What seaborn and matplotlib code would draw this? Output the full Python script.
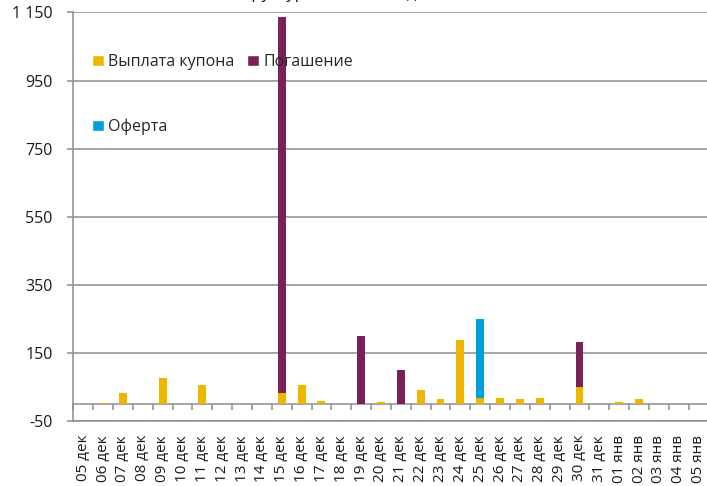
import matplotlib
matplotlib.use("Agg")
import matplotlib.pyplot as plt
from matplotlib.patches import Patch
import numpy as np
import pandas as pd
import seaborn as sns

# Payment calendar, one bar per day
dates = [
    "05 дек", "06 дек", "07 дек", "08 дек", "09 дек", "10 дек", "11 дек",
    "12 дек", "13 дек", "14 дек", "15 дек", "16 дек", "17 дек", "18 дек",
    "19 дек", "20 дек", "21 дек", "22 дек", "23 дек", "24 дек", "25 дек",
    "26 дек", "27 дек", "28 дек", "29 дек", "30 дек", "31 дек",
    "01 янв", "02 янв", "03 янв", "04 янв", "05 янв",
]
coupon = [0, 2, 32, 0, 75, 0, 57, 0, 0, 0, 32, 55, 8, 0, 0, 6,
          0, 40, 14, 187, 19, 19, 16, 19, 0, 50, 0, 5, 15, 0, 0, 0]
redemption = [0, 0, 0, 0, 0, 0, 0, 0, 0, 0, 1104, 0, 0, 0, 199, 0,
              101, 0, 0, 0, 0, 0, 0, 0, 0, 131, 0, 0, 0, 0, 0, 0]
offer = [0, 0, 0, 0, 0, 0, 0, 0, 0, 0, 0, 0, 0, 0, 0, 0,
         0, 0, 0, 0, 230, 0, 0, 0, 0, 0, 0, 0, 0, 0, 0, 0]
series_names = ["Выплата купона", "Погашение", "Оферта"]
y_ticks = [-50, 150, 350, 550, 750, 950, 1150]
title = "Структура выплат по дням"

C_COUPON = "#EDB700"
C_REDEMP = "#7B2159"
C_OFFER = "#009FDA"
GRAY = "#8C8C8C"

sns.set_theme(style="white")
plt.rcParams["font.family"] = ["Open Sans", "DejaVu Sans"]

df = pd.DataFrame({"date": dates, "coupon": coupon,
                   "redemption": redemption, "offer": offer})
df["lvl1"] = df["coupon"]
df["lvl2"] = df["lvl1"] + df["redemption"]
df["lvl3"] = df["lvl2"] + df["offer"]

W, H = 707, 486
step = 19.85
fig = plt.figure(figsize=(W / 100, H / 100), dpi=100)
ax = fig.add_axes([73.3 / W, 65 / H, step * len(dates) / W, (473.5 - 65) / H])

# stacked bars: draw cumulative totals back to front
for col, color in [("lvl3", C_OFFER), ("lvl2", C_REDEMP), ("lvl1", C_COUPON)]:
    sns.barplot(data=df, x="date", y=col, color=color, saturation=1,
                width=0.4, linewidth=0, edgecolor="none", ax=ax, zorder=3)

ax.set_xlim(-0.5, len(dates) - 0.5)
ax.set_ylim(-50, 1150)
ax.set_xlabel("")
ax.set_ylabel("")

# y axis
ax.set_yticks(y_ticks)
ax.set_yticklabels([f"{v:,}".replace(",", " ") for v in y_ticks])
ax.tick_params(axis="y", direction="out", length=4, width=1.1, color=GRAY,
               pad=11, labelsize=11.5, labelcolor="#1a1a1a", left=True)
ax.grid(axis="y", color=GRAY, linewidth=1.1, zorder=1)
ax.set_axisbelow(True)

for s in ["top", "right"]:
    ax.spines[s].set_visible(False)
for s in ["left", "bottom"]:
    ax.spines[s].set_color(GRAY)
    ax.spines[s].set_linewidth(1.1)

# date labels under the plot
ax.tick_params(axis="x", length=0, pad=10, labelsize=11,
               labelcolor="#1a1a1a", labelrotation=90)

# category axis at zero with ticks between days
zero_loc = (0 - (-50)) / (1150 - (-50))
sec = ax.secondary_xaxis(zero_loc)
sec.set_xticks(np.arange(-0.5, len(dates), 1.0))
sec.set_xticklabels([])
sec.tick_params(axis="x", direction="out", length=4.3, width=1.1, color=GRAY)
sec.spines["bottom"].set_color(GRAY)
sec.spines["bottom"].set_linewidth(1.1)

# legend
handles = [Patch(facecolor=C_COUPON, label=series_names[0]),
           Patch(facecolor=C_OFFER, label=series_names[2]),
           Patch(facecolor=C_REDEMP, label=series_names[1])]
ax.legend(handles=handles, ncol=2, frameon=False, fontsize=11.5,
          loc="upper left", bbox_to_anchor=(0.02, 0.913),
          handlelength=0.7, handleheight=0.7, handletextpad=0.3,
          columnspacing=0.8, labelspacing=3.0, borderaxespad=0)

fig.text(341 / W, (H + 2.5) / H, title, ha="center", va="baseline",
         fontsize=12, color="#1a1a1a")

fig.savefig("out.png", dpi=100)
